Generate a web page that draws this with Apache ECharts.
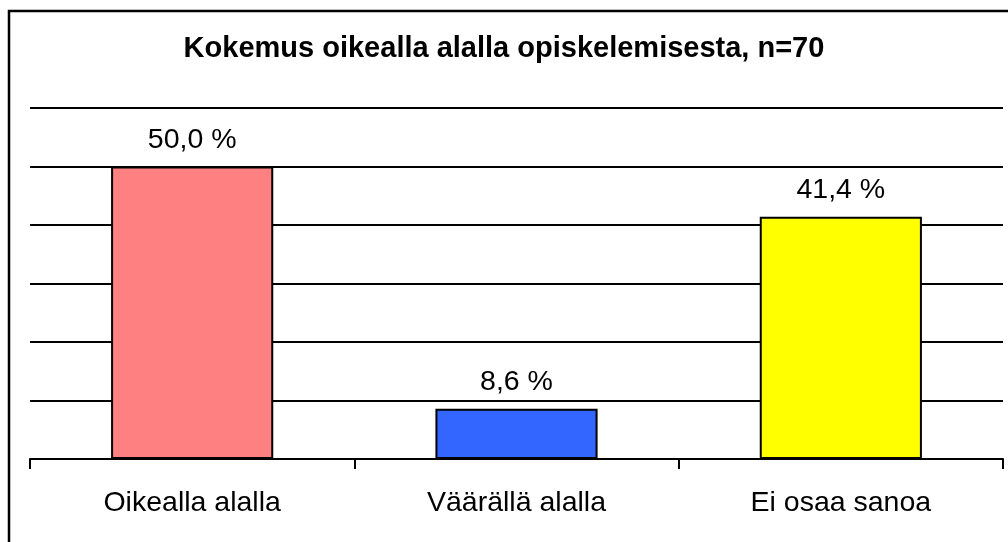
<!DOCTYPE html>
<html>
	<head>
		<meta charset="utf-8">
		<style>
			html,body{
				margin:0;
				height:100%;
				background:#fff;
			}
			#container{
				width:1008px;
				height:542px;
			}
		</style>
	</head>
	<body>
		<div id="container"></div>
	<script type="text/javascript" src="https://cdn.jsdelivr.net/npm/echarts@6/dist/echarts.min.js"></script>
	<script>
        var categories = ['Oikealla alalla', 'Väärällä alalla', 'Ei osaa sanoa'];
        var values = [50.0, 8.6, 41.4];
        var barColors = ['#FF8080', '#3366FF', '#FFFF00'];

        var myChart = echarts.init(document.getElementById('container'));
        var option = {
            backgroundColor: '#fff',
            animation: false,
            textStyle: {
                fontFamily: 'Liberation Sans, Arial, sans-serif'
            },
            title: {
                text: 'Kokemus oikealla alalla opiskelemisesta, n=70',
                left: 'center',
                top: 29,
                textStyle: {
                    color: '#000',
                    fontSize: 29,
                    fontWeight: 'bold'
                }
            },
            graphic: [
                {
                    type: 'rect',
                    shape: { x: 9, y: 11, width: 1100, height: 1000 },
                    style: { fill: 'none', stroke: '#000', lineWidth: 2.5 },
                    z: 100
                }
            ],
            grid: {
                left: 30,
                right: 5,
                top: 108,
                bottom: 83
            },
            xAxis: {
                type: 'category',
                data: categories,
                axisLine: { lineStyle: { color: '#000', width: 2 } },
                axisTick: { show: true, length: 10, lineStyle: { color: '#000', width: 2 } },
                axisLabel: {
                    color: '#000',
                    fontSize: 28.5,
                    margin: 30
                }
            },
            yAxis: {
                type: 'value',
                min: 0,
                max: 60,
                interval: 10,
                axisLine: { show: false },
                axisTick: { show: false },
                axisLabel: { show: false },
                splitLine: { lineStyle: { color: '#000', width: 2 } }
            },
            series: [
                {
                    type: 'bar',
                    barWidth: '50%',
                    data: values.map(function (v, i) {
                        return {
                            value: v,
                            itemStyle: { color: barColors[i], borderColor: '#000', borderWidth: 2 }
                        };
                    }),
                    label: {
                        show: true,
                        position: 'top',
                        distance: 12,
                        color: '#000',
                        fontSize: 28.5,
                        formatter: function (p) {
                            return p.value.toFixed(1).replace('.', ',') + ' %';
                        }
                    }
                }
            ]
        };
        myChart.setOption(option, true);
	</script>
	</body>
</html>
